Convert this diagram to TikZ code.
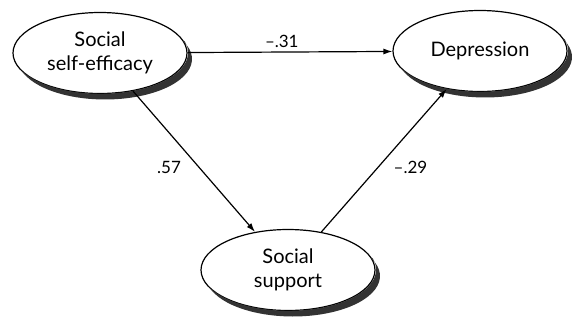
\documentclass[tikz,border=0pt]{standalone}
\usepackage{fontspec}
\setmainfont{Lato}
\usepackage{tikz}
\usetikzlibrary{arrows.meta,positioning,shapes.geometric}
\tikzset{
  varnode/.style={
    ellipse,draw=black,fill=white,line width=1.2pt,
    minimum width=174pt,minimum height=81pt,inner sep=0pt,
    align=center,font=\fontsize{20}{24}\selectfont
  },
  shadowfill/.style={fill=black!80,draw=none},
  pathline/.style={-{Latex[length=9pt,width=6pt]},draw=black,line width=1.2pt},
  coef/.style={font=\fontsize{17}{20}\selectfont}
}
\begin{document}
\begin{tikzpicture}[x=1pt,y=1pt]
\useasboundingbox (0,0) rectangle (572,325);
\node[varnode] (efficacy) at (100,272) {Social\\self-efficacy};
\node[varnode] (depression) at (480,274) {Depression};
\node[varnode] (support) at (288,55) {Social\\support};

% crescent shadows at the lower right of each ellipse
\foreach \v in {efficacy,depression,support}
  \fill[shadowfill] ([shift={(5pt,-6pt)}]\v.center) ++(25.8:87pt and 40.5pt)
    arc[start angle=25.8,end angle=-163.4,x radius=87pt,y radius=40.5pt]
    arc[start angle=-154.2,end angle=16.6,x radius=87.6pt,y radius=41.1pt]
    -- cycle;

\draw[pathline] (efficacy) -- node[coef,above,pos=.46] {\textendash.31} (depression);
\draw[pathline] (efficacy) -- node[coef,left=14pt,pos=.54] {.57} (support);
\draw[pathline] (support) -- node[coef,right=12pt,pos=.45] {\textendash.29} (depression);
\end{tikzpicture}
\end{document}
